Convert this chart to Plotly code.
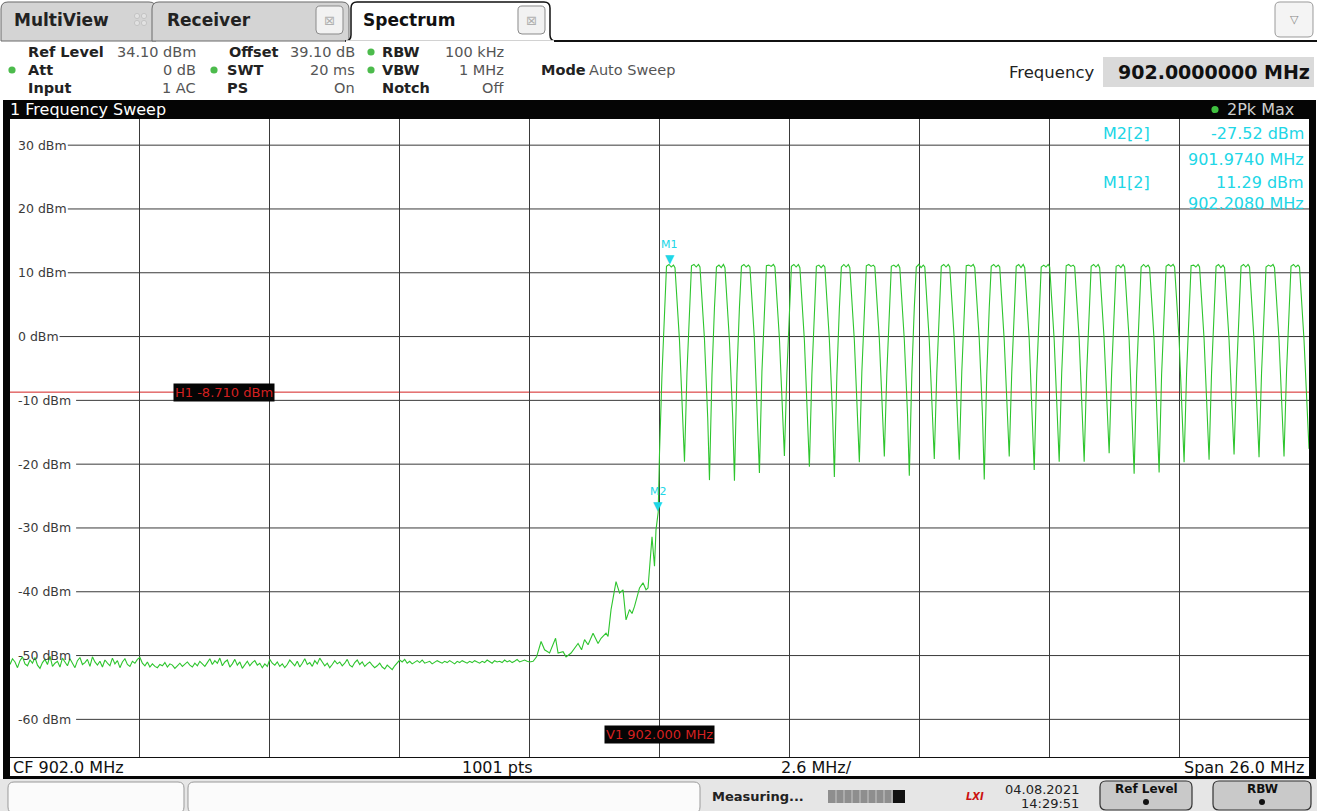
import plotly.graph_objects as go

# ---------------- data ----------------
start_mhz = 889.0
stop_mhz = 915.0
ref_level_dbm = 34.10
bottom_dbm = -65.90
freq_grid_mhz = [889.0, 891.6, 894.2, 896.8, 899.4, 902.0, 904.6, 907.2, 909.8, 912.4, 915.0]
level_grid_dbm = [30, 20, 10, 0, -10, -20, -30, -40, -50, -60]
level_labels = ["30 dBm", "20 dBm", "10 dBm", "0 dBm", "-10 dBm", "-20 dBm",
                "-30 dBm", "-40 dBm", "-50 dBm", "-60 dBm"]

# noise floor, one reading every 0.05 MHz from 889.00 MHz
noise_start_mhz = 889.0
noise_step_mhz = 0.05
noise_dbm = [
    -51.4, -50.5, -51.0, -51.9, -50.8, -50.2, -51.3, -51.6, -50.7, -51.2, -50.3, -51.5, -52.0,
    -51.1, -50.6, -51.4, -50.1, -51.7, -51.2, -50.9, -51.8, -50.4, -51.0, -51.6, -50.5, -51.3,
    -51.9, -50.8, -50.3, -51.4, -51.1, -50.6, -51.7, -50.2, -51.0, -51.5, -50.9, -51.8, -50.7,
    -51.2, -51.6, -50.4, -51.3, -50.8, -51.9, -51.0, -50.5, -51.4, -51.7, -50.9, -51.2, -50.6,
    -50.3, -51.2, -51.6, -51.0, -51.8, -51.3, -51.7, -51.9, -51.4, -51.6, -51.1, -51.8, -51.3,
    -51.5, -52.0, -51.6, -51.2, -51.7, -51.4, -51.0, -51.5, -51.8, -51.2, -51.6, -50.9, -51.3,
    -51.7, -51.1, -50.5, -51.4, -50.8, -51.2, -50.4, -51.6, -51.0, -50.7, -51.8, -51.3, -50.6,
    -51.5, -51.0, -52.0, -51.4, -50.9, -51.6, -51.1, -50.8, -51.5, -51.2, -51.9, -51.3, -51.7,
    -50.6, -51.2, -51.5, -51.0, -51.7, -51.3, -51.9, -51.4, -50.7, -51.1, -51.6, -50.9, -51.8,
    -51.2, -50.5, -51.4, -51.1, -51.7, -50.8, -51.3, -50.4, -51.0, -51.6, -51.2, -51.9, -51.4,
    -50.8, -51.3, -51.0, -51.6, -51.2, -50.6, -51.5, -51.8, -51.1, -50.7, -51.4, -51.0, -51.7,
    -51.3, -51.0, -51.5, -51.9, -51.6, -51.2, -51.8, -52.1, -51.5, -51.9, -52.2, -51.6, -51.1,
    -50.7, -51.0, -50.6, -51.2, -50.9, -51.3, -51.0, -50.8, -51.1, -50.7, -51.2, -51.0, -50.9,
    -51.3, -51.1, -50.8, -51.0, -51.2, -50.9, -51.1, -50.8, -51.0, -51.3, -50.9, -51.1, -50.8,
    -51.0, -51.2, -50.9, -51.1, -50.8, -51.0, -51.2, -50.9, -51.1, -50.7, -51.0, -51.2, -50.8,
    -51.0, -50.9, -51.1, -50.7, -51.0, -50.8, -51.1, -50.9, -50.6, -51.0, -50.8, -50.7, -50.9,
]

# rising skirt below 902 MHz
rise_mhz = [899.40, 899.47, 899.54, 899.63, 899.70, 899.80, 899.92, 899.97, 900.07, 900.13,
            900.23, 900.37, 900.44, 900.50, 900.57, 900.67, 900.77, 900.83, 900.93, 900.97,
            901.03, 901.13, 901.20, 901.27, 901.33, 901.40, 901.45, 901.50, 901.60, 901.67,
            901.73, 901.77, 901.85, 901.90, 901.93, 901.974]
rise_dbm = [-51.0, -50.9, -50.2, -47.8, -49.1, -49.6, -47.3, -49.6, -49.4, -50.2,
            -49.6, -48.1, -49.1, -47.5, -48.3, -46.5, -48.1, -47.3, -46.5, -47.0,
            -42.8, -38.4, -40.2, -39.7, -44.4, -42.8, -43.4, -42.3, -39.4, -38.6,
            -39.7, -39.4, -31.4, -36.0, -30.3, -27.52]

# 26 hopping channels, 0.5 MHz apart, each read as 10 vertices from its left trough
channel_first_mhz = 902.0
channel_spacing_mhz = 0.5
channel_offsets_mhz = [0.0, 0.05, 0.10, 0.14, 0.19, 0.235, 0.28, 0.31, 0.40, 0.465]
channel_dbm = [
    [-18.3, -5.9, 4.6, 11.0, 11.3, 10.9, 11.2, 10.8, -0.6, -12.4],
    [-19.6, -5.6, 4.8, 11.1, 11.3, 10.9, 11.3, 10.9, -0.4, -12.7],
    [-22.5, -6.0, 4.5, 10.9, 11.2, 10.8, 11.3, 10.8, -0.7, -12.6],
    [-22.6, -5.8, 4.6, 11.0, 11.3, 10.9, 11.2, 10.9, -0.5, -12.3],
    [-21.4, -5.5, 4.9, 11.1, 11.2, 11.0, 11.3, 10.9, -0.3, -12.2],
    [-18.7, -5.7, 4.7, 11.0, 11.3, 10.9, 11.3, 10.8, -0.6, -12.8],
    [-20.4, -5.9, 4.6, 11.0, 11.2, 10.8, 11.2, 10.9, -0.5, -12.5],
    [-22.0, -6.1, 4.4, 10.9, 11.3, 10.9, 11.3, 10.8, -0.6, -12.4],
    [-19.7, -5.6, 4.8, 11.1, 11.3, 11.0, 11.2, 10.9, -0.4, -12.6],
    [-18.8, -5.8, 4.7, 11.0, 11.2, 10.9, 11.3, 10.8, -0.5, -12.3],
    [-21.8, -6.0, 4.5, 10.9, 11.3, 10.8, 11.2, 10.9, -0.7, -12.7],
    [-19.2, -5.7, 4.7, 11.0, 11.3, 10.9, 11.3, 10.9, -0.5, -12.5],
    [-19.3, -5.6, 4.8, 11.1, 11.2, 11.0, 11.3, 10.8, -0.4, -12.4],
    [-22.4, -6.0, 4.5, 11.0, 11.3, 10.9, 11.2, 10.9, -0.6, -12.6],
    [-18.8, -5.7, 4.7, 11.0, 11.3, 10.8, 11.3, 10.8, -0.5, -12.3],
    [-20.9, -5.9, 4.6, 10.9, 11.2, 10.9, 11.3, 10.9, -0.6, -12.5],
    [-19.6, -5.7, 4.7, 11.1, 11.3, 11.0, 11.2, 10.9, -0.4, -12.6],
    [-19.6, -5.8, 4.6, 11.0, 11.3, 10.9, 11.3, 10.8, -0.5, -12.4],
    [-18.3, -5.6, 4.8, 11.0, 11.2, 10.8, 11.3, 10.9, -0.5, -12.7],
    [-21.5, -6.0, 4.5, 10.9, 11.3, 10.9, 11.2, 10.8, -0.6, -12.5],
    [-21.3, -5.9, 4.6, 11.0, 11.3, 11.0, 11.3, 10.9, -0.5, -12.3],
    [-19.7, -5.7, 4.7, 11.1, 11.2, 10.9, 11.3, 10.9, -0.4, -12.6],
    [-19.3, -5.6, 4.8, 11.0, 11.3, 10.8, 11.2, 10.8, -0.5, -12.4],
    [-18.5, -5.8, 4.7, 11.0, 11.3, 10.9, 11.3, 10.9, -0.6, -12.5],
    [-18.9, -5.7, 4.6, 10.9, 11.2, 11.0, 11.3, 10.8, -0.5, -12.4],
    [-18.8, -5.6, 4.8, 11.0, 11.3, 10.9, 11.2, 10.9, -0.5, -12.3],
]
sweep_end_dbm = -17.6

h1_dbm = -8.71
v1_mhz = 902.0
marker_names = ["M1", "M2"]
marker_mhz = [902.208, 901.974]
marker_dbm = [11.29, -27.52]

# ---------------- build trace ----------------
trace_x, trace_y = [], []
for i, v in enumerate(noise_dbm):
    trace_x.append(round(noise_start_mhz + i * noise_step_mhz, 4))
    trace_y.append(v)
trace_x += rise_mhz
trace_y += rise_dbm
for k, row in enumerate(channel_dbm):
    base = channel_first_mhz + k * channel_spacing_mhz
    for off, v in zip(channel_offsets_mhz, row):
        trace_x.append(round(base + off, 4))
        trace_y.append(v)
trace_x.append(stop_mhz)
trace_y.append(sweep_end_dbm)

# ---------------- page geometry (pixels) ----------------
W, H = 1317, 811
PL, PR, PT, PB = 10, 1309, 119, 757
FONT = "DejaVu Sans"
CYAN = "#20d6e6"
RED = "#d42020"
GREEN = "#2ec52e"


def fx(x):
    return (x - PL) / (PR - PL)


def fy(y):
    return (PB - y) / (PB - PT)


def P(x, y):
    return f"{fx(x):.6f},{fy(y):.6f}"


shapes, annots = [], []


def rect(x0, y0, x1, y1, fill, line=None, lw=1):
    shapes.append(dict(type="rect", xref="paper", yref="paper", x0=fx(x0), x1=fx(x1),
                       y0=fy(y1), y1=fy(y0), fillcolor=fill,
                       line=dict(color=line or fill, width=lw if line else 0), layer="above"))


def rrect(x0, y0, x1, y1, r, fill, line=None, lw=1, top_only=False):
    if top_only:
        d = (f"M {P(x0, y1)} L {P(x0, y0 + r)} Q {P(x0, y0)} {P(x0 + r, y0)} "
             f"L {P(x1 - r, y0)} Q {P(x1, y0)} {P(x1, y0 + r)} L {P(x1, y1)} Z")
    else:
        d = (f"M {P(x0 + r, y0)} L {P(x1 - r, y0)} Q {P(x1, y0)} {P(x1, y0 + r)} "
             f"L {P(x1, y1 - r)} Q {P(x1, y1)} {P(x1 - r, y1)} L {P(x0 + r, y1)} "
             f"Q {P(x0, y1)} {P(x0, y1 - r)} L {P(x0, y0 + r)} Q {P(x0, y0)} {P(x0 + r, y0)} Z")
    shapes.append(dict(type="path", xref="paper", yref="paper", path=d, fillcolor=fill,
                       line=dict(color=line or fill, width=lw if line else 0), layer="above"))


def hline(x0, x1, y, color, w=1):
    shapes.append(dict(type="line", xref="paper", yref="paper", x0=fx(x0), x1=fx(x1),
                       y0=fy(y), y1=fy(y), line=dict(color=color, width=w), layer="above"))


def circle(cx, cy, r, fill, line=None):
    shapes.append(dict(type="circle", xref="paper", yref="paper", x0=fx(cx - r), x1=fx(cx + r),
                       y0=fy(cy + r), y1=fy(cy - r), fillcolor=fill,
                       line=dict(color=line or fill, width=1 if line else 0), layer="above"))


def text(x, y, s, size=15, color="#222", bold=False, anchor="left", bg=None):
    annots.append(dict(xref="paper", yref="paper", x=fx(x), y=fy(y),
                       text=f"<b>{s}</b>" if bold else s, showarrow=False,
                       xanchor=anchor, yanchor="middle",
                       font=dict(family=FONT, size=size, color=color),
                       bgcolor=bg, borderpad=0))


# ---- tabs ----
rrect(1, 2, 156, 41, 7, "#d4d4d4", "#6a6a6a", 1, top_only=True)
rrect(152, 2, 349, 41, 7, "#d4d4d4", "#6a6a6a", 1, top_only=True)
text(13, 20, "MultiView", 17, "#222", True)
for dx, dy in [(0, 0), (7, 0), (0, 7), (7, 7)]:
    circle(137 + dx, 16 + dy, 2.6, "#e2e2e2", "#c4c4c4")
text(166, 20, "Receiver", 17, "#222", True)
rrect(316, 6, 343, 34, 4, "#f2f2f2", "#8a8a8a", 1)
text(329.5, 20, "⊠", 13, "#b0b0b0", anchor="center")
# active tab
d = (f"M {P(345, 41)} Q {P(351, 41)} {P(351, 35)} L {P(351, 8)} Q {P(351, 2)} {P(357, 2)} "
     f"L {P(544, 2)} Q {P(550, 2)} {P(550, 8)} L {P(550, 35)} Q {P(550, 41)} {P(556, 41)} Z")
shapes.append(dict(type="path", xref="paper", yref="paper", path=d, fillcolor="white",
                   line=dict(color="#111", width=1.5), layer="above"))
rect(346, 40.2, 555, 42, "white")
hline(554, 1317, 41, "#111", 2)
text(362, 20, "Spectrum", 17, "#111", True)
rrect(518, 6, 545, 34, 4, "#f2f2f2", "#8a8a8a", 1)
text(531.5, 20, "⊠", 13, "#b0b0b0", anchor="center")
rrect(1275, 2, 1313, 37, 5, "#f4f4f4", "#9a9a9a", 1)
text(1294, 19, "▽", 11, "#888", anchor="center")

# ---- setting rows ----
R1, R2, R3 = 52, 70, 88
LAB, VAL = "#222", "#555"
FS = 14.5
text(27, R1, "Ref Level", FS, LAB, True)
text(197, R1, "34.10 dBm", FS, VAL, anchor="right")
text(228, R1, "Offset", FS, LAB, True)
text(356, R1, "39.10 dB", FS, VAL, anchor="right")
circle(371, R1, 3.6, "#4cbb4c")
text(381, R1, "RBW", FS, LAB, True)
text(505, R1, "100 kHz", FS, VAL, anchor="right")

circle(12, R2, 3.6, "#4cbb4c")
text(27, R2, "Att", FS, LAB, True)
text(197, R2, "0 dB", FS, VAL, anchor="right")
circle(214, R2, 3.6, "#4cbb4c")
text(226, R2, "SWT", FS, LAB, True)
text(356, R2, "20 ms", FS, VAL, anchor="right")
circle(371, R2, 3.6, "#4cbb4c")
text(381, R2, "VBW", FS, LAB, True)
text(505, R2, "1 MHz", FS, VAL, anchor="right")
text(540, R2, "Mode", FS, LAB, True)
text(588, R2, "Auto Sweep", FS, VAL)

text(27, R3, "Input", FS, LAB, True)
text(197, R3, "1 AC", FS, VAL, anchor="right")
text(226, R3, "PS", FS, LAB, True)
text(356, R3, "On", FS, VAL, anchor="right")
text(381, R3, "Notch", FS, LAB, True)
text(505, R3, "Off", FS, VAL, anchor="right")

text(1095, 72, "Frequency", 16.5, "#222", anchor="right")
rect(1103, 57, 1314, 87, "#dadada")
text(1311, 72, "902.0000000 MHz", 19, "#111", True, anchor="right")

# ---- sweep title bar ----
rrect(4, 100, 1316, 119, 6, "#050505", top_only=True)
text(9, 109.5, "1 Frequency Sweep", 16, "white")
circle(1215, 109.5, 3.6, "#40c040")
text(1295, 109.5, "2Pk Max", 16, "#cfcfcf", anchor="right")

# ---- frame ----
rect(3, 100, 10, 779, "#050505")
rect(1309, 100, 1316, 779, "#050505")
hline(10, 1309, 757.5, "#111", 1.2)
rect(3, 776, 1316, 779, "#050505")
text(12, 767, "CF 902.0 MHz", 16, "#111")
text(497, 767, "1001 pts", 16, "#111", anchor="center")
text(780, 767, "2.6 MHz/", 16, "#111")
text(1305, 767, "Span 26.0 MHz", 16, "#111", anchor="right")

# ---- status bar ----
rect(0, 779, 1317, 811, "#e6e6e6")
rrect(8, 782, 184, 813, 6, "#fbfbfb", "#9a9a9a", 1)
rrect(188, 782, 700, 813, 6, "#fbfbfb", "#9a9a9a", 1)
text(711, 797, "<b>Measuring...</b>", 13, "#222")
rect(828, 790, 893, 803, "#8e8e8e")
rect(893, 790, 905, 803, "#111")
for sx in range(836, 893, 8):
    shapes.append(dict(type="line", xref="paper", yref="paper", x0=fx(sx), x1=fx(sx),
                       y0=fy(790), y1=fy(803), line=dict(color="#c8c8c8", width=1), layer="above"))
text(975, 797, "<i><b>LXI</b></i>", 10, "#cc1111", anchor="center")
text(1080, 789, "04.08.2021", 13, "#222", anchor="right")
text(1080, 803, "14:29:51", 13, "#222", anchor="right")
rrect(1100, 781, 1192, 810, 6, "#c9c9c9", "#333", 1.2)
text(1146, 789, "<b>Ref Level</b>", 12, "#111", anchor="center")
circle(1146, 802, 3, "#111")
rrect(1213, 781, 1311, 810, 6, "#c9c9c9", "#333", 1.2)
text(1262, 789, "<b>RBW</b>", 12, "#111", anchor="center")
circle(1262, 802, 3, "#111")

# ---- level grid lines + labels (inside plot) ----
for lv, lab in zip(level_grid_dbm, level_labels):
    x_start = 16 + 8.3 * len(lab) + 2
    shapes.append(dict(type="line", xref="paper", yref="y", x0=fx(x_start), x1=1,
                       y0=lv, y1=lv, line=dict(color="#3a3a3a", width=1), layer="below"))
    annots.append(dict(xref="paper", yref="y", x=fx(16), y=lv, text=lab, showarrow=False,
                       xanchor="left", yanchor="middle",
                       font=dict(family=FONT, size=12.5, color="#3a3a3a")))

# ---- display lines H1 / V1 ----
shapes.append(dict(type="line", xref="paper", yref="y", x0=0, x1=1, y0=h1_dbm, y1=h1_dbm,
                   line=dict(color=RED, width=1), layer="between"))
shapes.append(dict(type="line", xref="x", yref="paper", x0=v1_mhz, x1=v1_mhz, y0=0, y1=1,
                   line=dict(color=RED, width=1), layer="between"))
annots.append(dict(xref="x", yref="y", x=892.26, y=h1_dbm, text="H1 -8.710 dBm",
                   showarrow=False, xanchor="left", yanchor="middle", bgcolor="#050505",
                   borderpad=1, font=dict(family=FONT, size=13, color=RED)))
annots.append(dict(xref="x", yref="y", x=v1_mhz, y=-62.4, text="V1 902.000 MHz",
                   showarrow=False, xanchor="center", yanchor="middle", bgcolor="#050505",
                   borderpad=1, font=dict(family=FONT, size=13, color=RED)))

# ---- markers ----
for name, mx, my in zip(marker_names, marker_mhz, marker_dbm):
    annots.append(dict(xref="x", yref="y", x=mx, y=my, text="▼", showarrow=False,
                       xanchor="center", yanchor="bottom", yshift=-3,
                       font=dict(family=FONT, size=12, color=CYAN)))
    annots.append(dict(xref="x", yref="y", x=mx, y=my, text=name, showarrow=False,
                       xanchor="center", yanchor="bottom", yshift=12,
                       font=dict(family=FONT, size=11, color=CYAN)))

# marker result table
text(1102, 133, "M2[2]", 16, CYAN)
text(1305, 133, f"{marker_dbm[1]:.2f} dBm", 16, CYAN, anchor="right")
text(1305, 160, f"{marker_mhz[1]:.4f} MHz", 16, CYAN, anchor="right")
text(1102, 182, "M1[2]", 16, CYAN)
text(1305, 182, f"{marker_dbm[0]:.2f} dBm", 16, CYAN, anchor="right")
text(1305, 203, f"{marker_mhz[0]:.4f} MHz", 16, CYAN, anchor="right")

# ---------------- figure ----------------
fig = go.Figure()
fig.add_trace(go.Scatter(x=trace_x, y=trace_y, mode="lines",
                         line=dict(color=GREEN, width=1.1), hoverinfo="skip"))
fig.update_layout(
    width=W, height=H,
    margin=dict(l=PL, r=W - PR, t=PT, b=H - PB),
    paper_bgcolor="white", plot_bgcolor="white",
    showlegend=False, hovermode=False,
    xaxis=dict(range=[start_mhz, stop_mhz], tickvals=freq_grid_mhz, showgrid=True,
               gridcolor="#3a3a3a", gridwidth=1, showticklabels=False, ticks="",
               zeroline=False, showline=False, fixedrange=True),
    yaxis=dict(range=[bottom_dbm, ref_level_dbm], showgrid=False, showticklabels=False,
               ticks="", zeroline=False, showline=False, fixedrange=True),
    shapes=shapes, annotations=annots,
)
fig.write_html("out.html", config={"displayModeBar": False},
               post_script="document.body.style.margin='0px';document.body.style.overflow='hidden';")
